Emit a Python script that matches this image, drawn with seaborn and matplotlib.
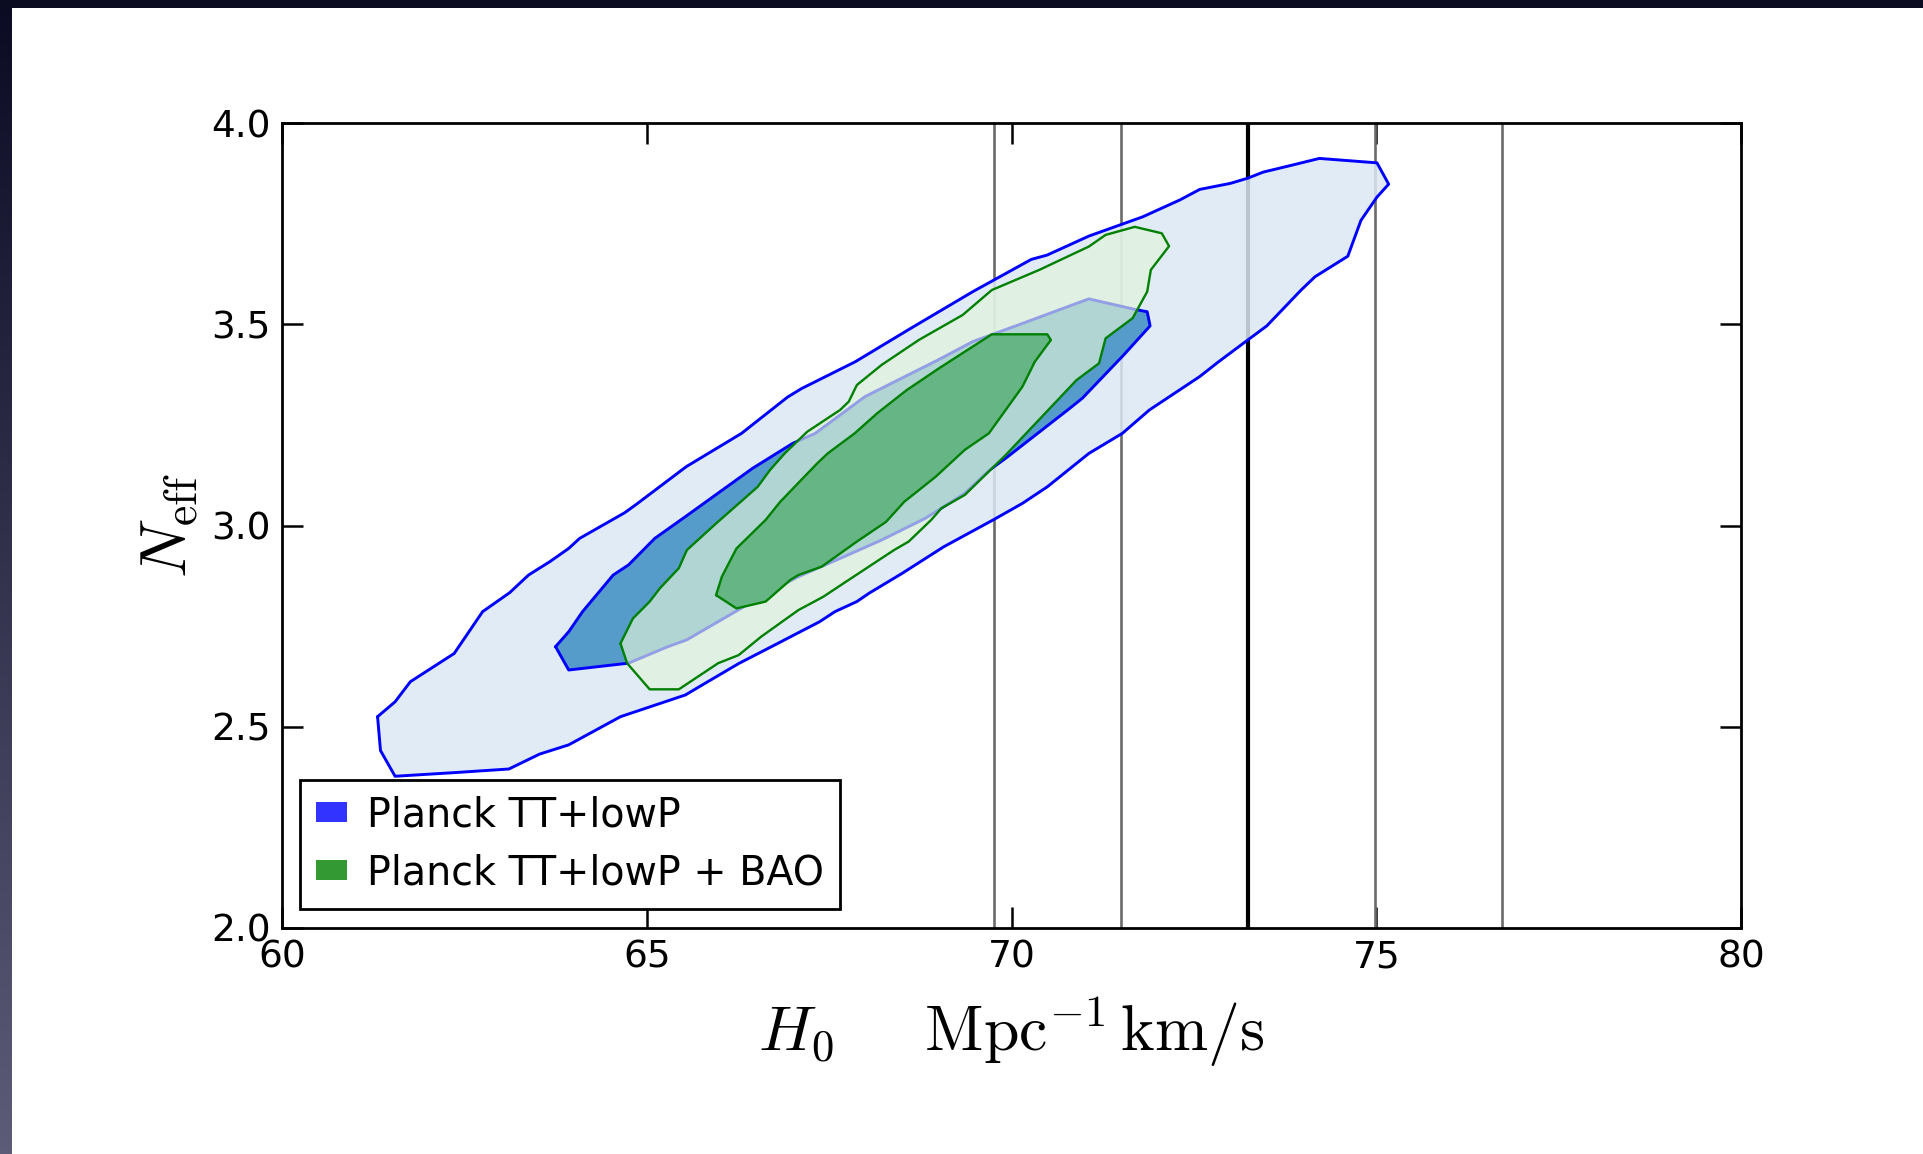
import numpy as np
import pandas as pd
import matplotlib
matplotlib.use("Agg")
import matplotlib.pyplot as plt
from matplotlib.patches import Patch, Rectangle
import seaborn as sns

# ---------------- data ----------------
# SH0ES H0 measurement: central value and 1/2-sigma bounds (km/s/Mpc)
h0_lines = [69.76, 71.50, 73.24, 74.98, 76.72]
h0_line_kind = ["2s", "1s", "c", "1s", "2s"]

# Planck TT+lowP, 95% contour
tt95_h0 = [61.31, 61.55, 61.76, 62.36, 62.75, 63.12, 63.38, 63.67, 63.93, 64.08, 64.70, 64.86,
           65.54, 66.30, 66.93, 67.12, 67.86, 68.62, 69.47, 70.27, 70.49, 71.06, 71.80, 72.31,
           72.58, 73.00, 73.24, 73.45, 73.84, 74.22, 75.01, 75.17, 75.01, 74.79, 74.61, 74.16,
           73.97, 73.50, 73.21, 72.84, 72.58, 71.89, 71.52, 71.06, 70.49, 70.15, 69.75, 69.07,
           68.50, 68.05, 67.88, 67.58, 67.37, 66.71, 66.26, 65.80, 65.53, 64.64, 63.93, 63.53,
           63.11, 62.36, 61.55, 61.35]
tt95_neff = [2.525, 2.562, 2.612, 2.682, 2.786, 2.833, 2.877, 2.910, 2.943, 2.968, 3.032, 3.053,
             3.146, 3.229, 3.319, 3.340, 3.407, 3.490, 3.581, 3.661, 3.672, 3.719, 3.767, 3.809,
             3.835, 3.850, 3.863, 3.878, 3.895, 3.912, 3.901, 3.848, 3.816, 3.758, 3.669, 3.618,
             3.585, 3.496, 3.457, 3.407, 3.370, 3.287, 3.229, 3.179, 3.096, 3.055, 3.014, 2.947,
             2.881, 2.832, 2.811, 2.786, 2.761, 2.699, 2.657, 2.608, 2.579, 2.525, 2.455, 2.432,
             2.395, 2.386, 2.377, 2.441]

# Planck TT+lowP, 68% contour
tt68_h0 = [63.75, 63.93, 64.12, 64.54, 64.75, 65.11, 65.53, 66.45, 67.00, 67.31, 67.99, 68.99,
           69.47, 70.09, 71.06, 71.69, 71.86, 71.90, 71.54, 70.97, 70.77, 69.92, 69.70, 69.36,
           68.82, 68.22, 67.76, 67.08, 66.69, 65.55, 65.29, 64.75, 63.93]
tt68_neff = [2.699, 2.736, 2.786, 2.877, 2.902, 2.968, 3.022, 3.142, 3.204, 3.229, 3.320, 3.411,
             3.457, 3.498, 3.563, 3.537, 3.531, 3.496, 3.424, 3.316, 3.287, 3.167, 3.138, 3.080,
             3.018, 2.964, 2.927, 2.873, 2.836, 2.716, 2.699, 2.658, 2.641]

# Planck TT+lowP + BAO, 95% contour
bao95_h0 = [64.64, 64.81, 65.04, 65.18, 65.44, 65.55, 65.95, 66.52, 66.69, 66.89, 67.20, 67.65,
            67.77, 67.88, 68.22, 68.73, 69.33, 69.73, 70.38, 71.06, 71.29, 71.69, 72.06, 72.16,
            71.91, 71.86, 71.66, 71.29, 71.20, 70.89, 69.92, 69.36, 69.04, 68.90, 68.59, 68.39,
            67.77, 67.42, 67.08, 66.57, 66.26, 65.98, 65.44, 65.04, 64.73]
bao95_neff = [2.707, 2.769, 2.811, 2.844, 2.894, 2.939, 3.005, 3.096, 3.138, 3.179, 3.233, 3.287,
              3.308, 3.349, 3.399, 3.461, 3.523, 3.585, 3.635, 3.693, 3.722, 3.742, 3.726, 3.694,
              3.635, 3.581, 3.515, 3.465, 3.403, 3.361, 3.175, 3.076, 3.043, 3.014, 2.960, 2.939,
              2.865, 2.823, 2.790, 2.724, 2.678, 2.658, 2.593, 2.593, 2.658]

# Planck TT+lowP + BAO, 68% contour
bao68_h0 = [65.95, 66.03, 66.23, 66.63, 66.83, 67.34, 67.48, 67.85, 68.16, 68.56, 69.01, 69.73,
            70.49, 70.54, 70.32, 70.15, 69.69, 69.36, 68.96, 68.53, 68.28, 67.88, 67.40, 67.08,
            66.97, 66.63, 66.23]
bao68_neff = [2.827, 2.873, 2.943, 3.014, 3.059, 3.155, 3.179, 3.229, 3.279, 3.336, 3.391, 3.475,
              3.475, 3.461, 3.407, 3.345, 3.229, 3.188, 3.121, 3.059, 3.009, 2.960, 2.898, 2.877,
              2.865, 2.811, 2.794]

legend_labels = ["Planck TT+lowP", "Planck TT+lowP + BAO"]
x_ticks = [60, 65, 70, 75, 80]
y_ticks = [2.0, 2.5, 3.0, 3.5, 4.0]

# ---------------- style ----------------
sns.set_theme(style="ticks")
plt.rcParams["font.family"] = ["DejaVu Sans"]
plt.rcParams["mathtext.fontset"] = "cm"
plt.rcParams["text.color"] = "black"
plt.rcParams["axes.labelcolor"] = "black"
plt.rcParams["xtick.color"] = "black"
plt.rcParams["ytick.color"] = "black"

W, H = 1923, 1154
fig = plt.figure(figsize=(W / 100, H / 100), dpi=100)
fig.patch.set_facecolor("white")
ax = fig.add_axes([282 / W, 1 - 928 / H, (1741 - 282) / W, (928 - 123) / H])
ax.set_facecolor("white")

# vertical H0 lines (drawn below the contours)
for v, k in zip(h0_lines, h0_line_kind):
    if k == "c":
        ax.axvline(v, color="black", lw=3.0, zorder=1)
    else:
        ax.axvline(v, color="0.42", lw=1.9, zorder=1)


def closed(xs, ys):
    return pd.DataFrame({"x": list(xs) + [xs[0]], "y": list(ys) + [ys[0]]})


def contour(xs, ys, fc, falpha, ec, lw, z):
    d = closed(xs, ys)
    ax.fill(d["x"], d["y"], facecolor=fc, alpha=falpha, edgecolor="none", zorder=z)
    sns.lineplot(data=d, x="x", y="y", sort=False, estimator=None, color=ec, lw=lw,
                 ax=ax, zorder=z + 0.5)


contour(tt95_h0, tt95_neff, (219 / 255, 232 / 255, 245 / 255), 0.85, "blue", 2.1, 2)
contour(tt68_h0, tt68_neff, (86 / 255, 156 / 255, 203 / 255), 1.0, "blue", 2.1, 3)
contour(bao95_h0, bao95_neff, (224 / 255, 243 / 255, 216 / 255), 0.66, "green", 1.7, 4)
contour(bao68_h0, bao68_neff, (102 / 255, 181 / 255, 133 / 255), 1.0, "green", 1.7, 5)

ax.set_xlim(60, 80)
ax.set_ylim(2.0, 4.0)
ax.set_xticks(x_ticks)
ax.set_yticks(y_ticks)
ax.set_xticklabels([str(t) for t in x_ticks])
ax.set_yticklabels([f"{t:.1f}" for t in y_ticks])
ax.tick_params(direction="in", length=15, width=1.8, top=True, right=True,
               labelsize=27, pad=8, colors="black", labelcolor="black")
for s in ax.spines.values():
    s.set_color("black")
    s.set_linewidth(2.0)
    s.set_zorder(10)

ax.set_xlabel(r"$H_0\quad\;\;\mathrm{Mpc}^{-1}\,\mathrm{km/s}$", fontsize=46, labelpad=14,
              color="black")
ax.set_ylabel(r"$N_{\rm eff}$", fontsize=47, labelpad=8, color="black")

handles = [Patch(facecolor="blue", alpha=0.8, edgecolor="none"),
           Patch(facecolor="green", alpha=0.8, edgecolor="none")]
leg = ax.legend(handles, legend_labels, loc="lower left", bbox_to_anchor=(0.0123, 0.0236),
                borderaxespad=0, fontsize=28.5, frameon=True, fancybox=False,
                framealpha=1, edgecolor="black", handlelength=0.8, handleheight=0.4,
                handletextpad=0.5, borderpad=0.4, labelspacing=0.45, labelcolor="black")
leg.get_frame().set_linewidth(2.0)
leg.set_zorder(20)

# slide frame: dark strip on top and gradient strip on left
fig.add_artist(Rectangle((0, 1 - 8 / H), 1, 8 / H, transform=fig.transFigure,
                         facecolor="#0b0b22", edgecolor="none", zorder=30))
sax = fig.add_axes([0, 0, 12 / W, 1])
top_c = np.array([11, 11, 36]) / 255
bot_c = np.array([92, 91, 120]) / 255
t = np.linspace(0, 1, 256)[:, None]
grad = (top_c[None, :] * (1 - t) + bot_c[None, :] * t)[:, None, :]
sax.imshow(grad, aspect="auto", extent=[0, 1, 0, 1], origin="upper")
sax.set_axis_off()

fig.savefig("out.png", dpi=100)
